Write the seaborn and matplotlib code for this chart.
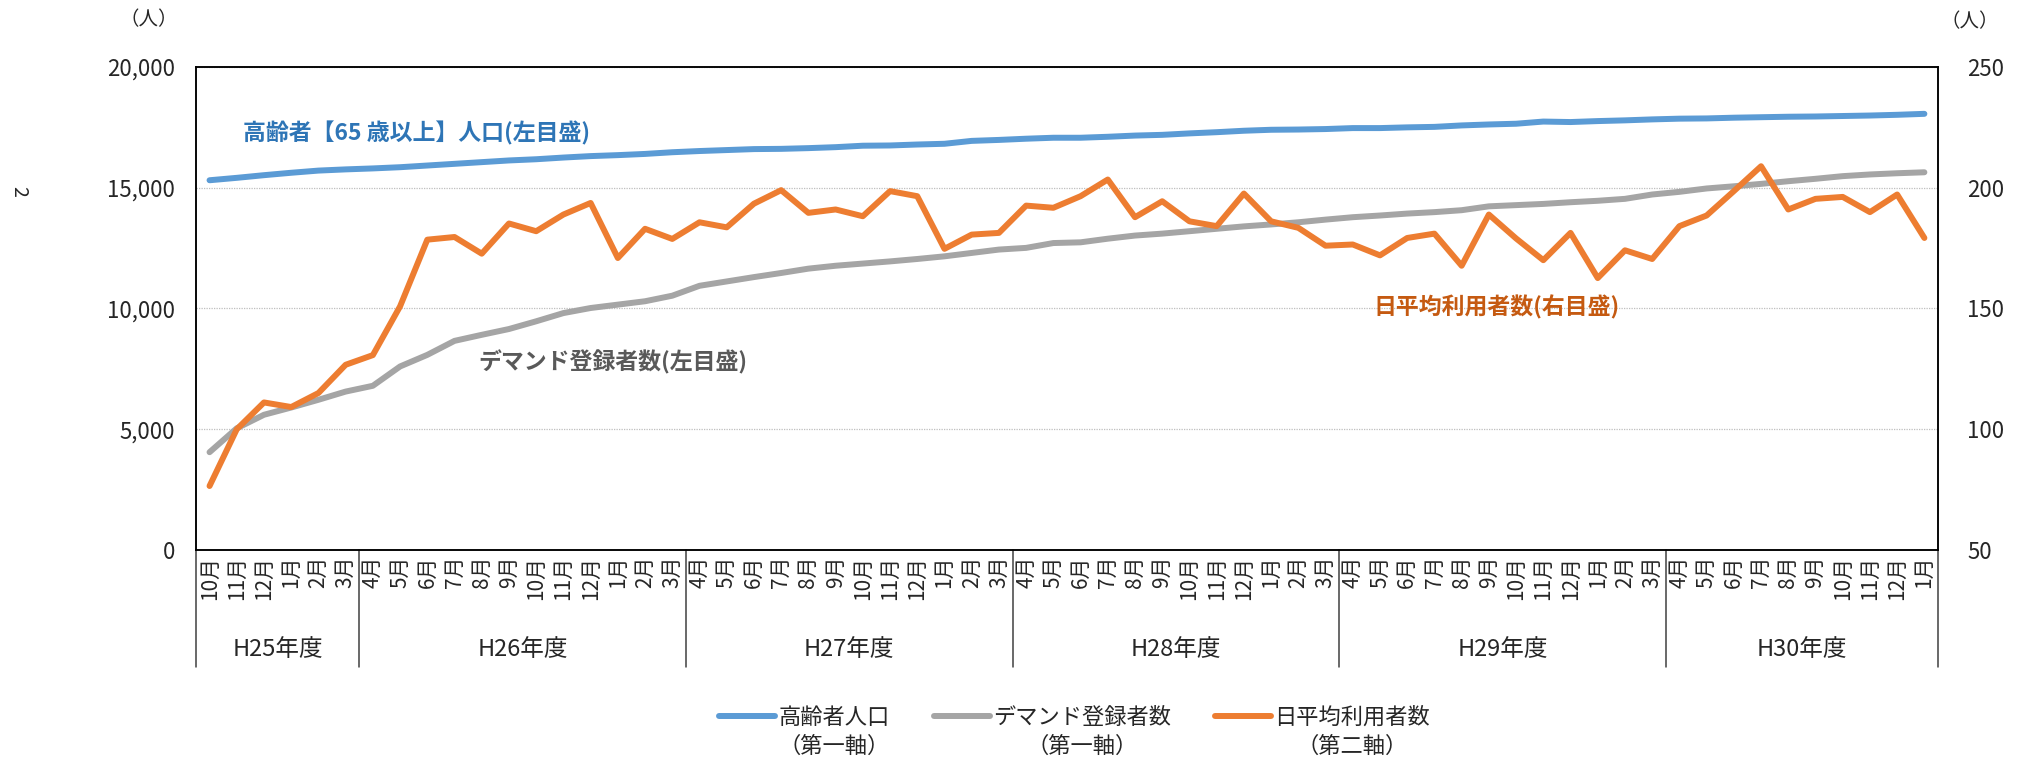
import numpy as np
import pandas as pd
import matplotlib
matplotlib.use("Agg")
import matplotlib.pyplot as plt
import seaborn as sns

# --- data ---
fiscal_years = ["H25年度", "H26年度", "H27年度", "H28年度", "H29年度", "H30年度"]
months_per_year = [6, 12, 12, 12, 12, 10]
month_labels = (["10月", "11月", "12月", "1月", "2月", "3月"]
                + ["4月", "5月", "6月", "7月", "8月", "9月", "10月", "11月", "12月", "1月", "2月", "3月"] * 4
                + ["4月", "5月", "6月", "7月", "8月", "9月", "10月", "11月", "12月", "1月"])

elderly = [15310, 15410, 15520, 15620, 15710, 15760, 15800, 15850, 15920, 15990, 16060, 16130, 16180, 16250, 16310, 16350,
           16400, 16470, 16520, 16560, 16600, 16610, 16640, 16680, 16740, 16750, 16790, 16820, 16940, 16980, 17030, 17070,
           17070, 17110, 17160, 17190, 17250, 17300, 17360, 17400, 17410, 17430, 17470, 17470, 17500, 17520, 17580, 17620,
           17650, 17740, 17720, 17760, 17790, 17830, 17860, 17870, 17900, 17920, 17940, 17950, 17970, 17990, 18020, 18060]

registered = [4050, 5040, 5600, 5900, 6220, 6560, 6800, 7600, 8080, 8660, 8910, 9150, 9470, 9810, 10020, 10160,
              10300, 10530, 10940, 11120, 11300, 11470, 11650, 11770, 11860, 11950, 12050, 12160, 12300, 12440, 12510, 12710,
              12740, 12890, 13020, 13100, 13200, 13300, 13400, 13480, 13570, 13680, 13780, 13850, 13930, 13990, 14070, 14230,
              14280, 14330, 14400, 14460, 14540, 14720, 14830, 14970, 15060, 15160, 15270, 15370, 15480, 15550, 15600, 15640]

daily_users = [76.5, 100.0, 111.1, 109.2, 115.0, 126.7, 130.7, 150.9, 178.5, 179.6, 172.7, 185.2, 182.0, 188.9, 193.7, 170.9,
               183.0, 178.8, 185.7, 183.6, 193.4, 199.0, 189.6, 191.0, 188.2, 198.6, 196.5, 174.7, 180.6, 181.3, 192.6, 191.7,
               196.5, 203.4, 187.8, 194.4, 186.1, 184.1, 197.6, 186.1, 183.4, 176.0, 176.5, 172.0, 179.2, 181.0, 167.7, 188.9,
               179.0, 170.0, 181.3, 162.6, 174.1, 170.5, 184.1, 188.5, 198.6, 208.9, 191.0, 195.4, 196.2, 189.9, 197.2, 179.2]

series_names = ["高齢者人口", "デマンド登録者数", "日平均利用者数"]
axis_notes = ["（第一軸）", "（第一軸）", "（第二軸）"]

df = pd.DataFrame({"idx": np.arange(len(month_labels)), "elderly": elderly,
                   "registered": registered, "daily": daily_users})

BLUE = "#5B9BD5"
GRAY = "#A5A5A5"
ORANGE = "#ED7D31"

sns.set_style("white")
plt.rcParams["font.family"] = ["Noto Sans CJK JP", "DejaVu Sans"]

fig = plt.figure(figsize=(20.2, 7.62), dpi=100)
ax = fig.add_axes([0.097, 0.2782, 0.8624, 0.6339])
ax2 = ax.twinx()

lw = 4.3
sns.lineplot(data=df, x="idx", y="elderly", ax=ax, color=BLUE, lw=lw, solid_capstyle="round", label=series_names[0], legend=False)
sns.lineplot(data=df, x="idx", y="registered", ax=ax, color=GRAY, lw=lw, solid_capstyle="round", label=series_names[1], legend=False)
sns.lineplot(data=df, x="idx", y="daily", ax=ax2, color=ORANGE, lw=lw, solid_capstyle="round", label=series_names[2], legend=False)

n = len(month_labels)
ax.set_xlim(-0.5, n - 0.5)
ax.set_ylim(0, 20000)
ax2.set_ylim(50, 250)
ax.set_yticks(np.arange(0, 20001, 5000))
ax2.set_yticks(np.arange(50, 251, 50))
ax.set_yticklabels([f"{v:,}" for v in range(0, 20001, 5000)])
ax.set_xticks(np.arange(n))
ax.set_xticklabels(month_labels, rotation=90)
ax.set_xlabel("")
ax.set_ylabel("")
ax2.set_ylabel("")

ax.tick_params(axis="y", length=0, pad=15, labelsize=16)
ax2.tick_params(axis="y", length=0, pad=21, labelsize=16)
ax.tick_params(axis="x", length=0, pad=4, labelsize=15)

ax.yaxis.grid(True, linestyle=(0, (1, 1)), color="#BFBFBF", lw=0.9)
ax.xaxis.grid(False)
ax2.grid(False)
for a in (ax, ax2):
    for s in a.spines.values():
        s.set_color("#000000")
        s.set_linewidth(1.1)

# fiscal year separators and labels under the month labels
trans = ax.get_xaxis_transform()
bounds = np.concatenate([[0], np.cumsum(months_per_year)]) - 0.5
for b in bounds:
    ax.plot([b, b], [0, -0.242], transform=trans, color="#404040", lw=1.1, clip_on=False)
for fy, lo, hi in zip(fiscal_years, bounds[:-1], bounds[1:]):
    ax.text((lo + hi) / 2, -0.207, fy, transform=trans, ha="center", va="center", fontsize=17)

# in-chart labels
ax.text(1.23, 17270, "高齢者【65 歳以上】人口(左目盛)", color="#2E75B6", fontsize=16.5, fontweight="bold", va="center")
ax.text(9.86, 7790, "デマンド登録者数(左目盛)", color="#595959", fontsize=16.5, fontweight="bold", va="center")
ax2.text(42.76, 150.6, "日平均利用者数(右目盛)", color="#C55A11", fontsize=16.5, fontweight="bold", va="center")

# units
fig.text(149 / 2020, 1 - 20 / 762, "（人）", fontsize=14, ha="center", va="center")
fig.text(1970 / 2020, 1 - 22 / 762, "（人）", fontsize=14, ha="center", va="center")
fig.text(19 / 2020, 1 - 191 / 762, "2", fontsize=14, rotation=-90, ha="center", va="center")

# legend
handles = ax.get_lines()[:2] + ax2.get_lines()[:1]
leg = fig.legend(handles, series_names, loc="center", bbox_to_anchor=(0.532, 1 - 717 / 762), ncol=3,
                 frameon=False, fontsize=16, handlelength=2.5, handletextpad=0.15, columnspacing=2.0)
fig.canvas.draw()
inv = fig.transFigure.inverted()
for t, note in zip(leg.get_texts(), axis_notes):
    bb = t.get_window_extent()
    cx = inv.transform(((bb.x0 + bb.x1) / 2, 0))[0]
    fig.text(cx, 1 - 746 / 762, note, fontsize=16, ha="center", va="center")

fig.savefig("out.png", dpi=100)
